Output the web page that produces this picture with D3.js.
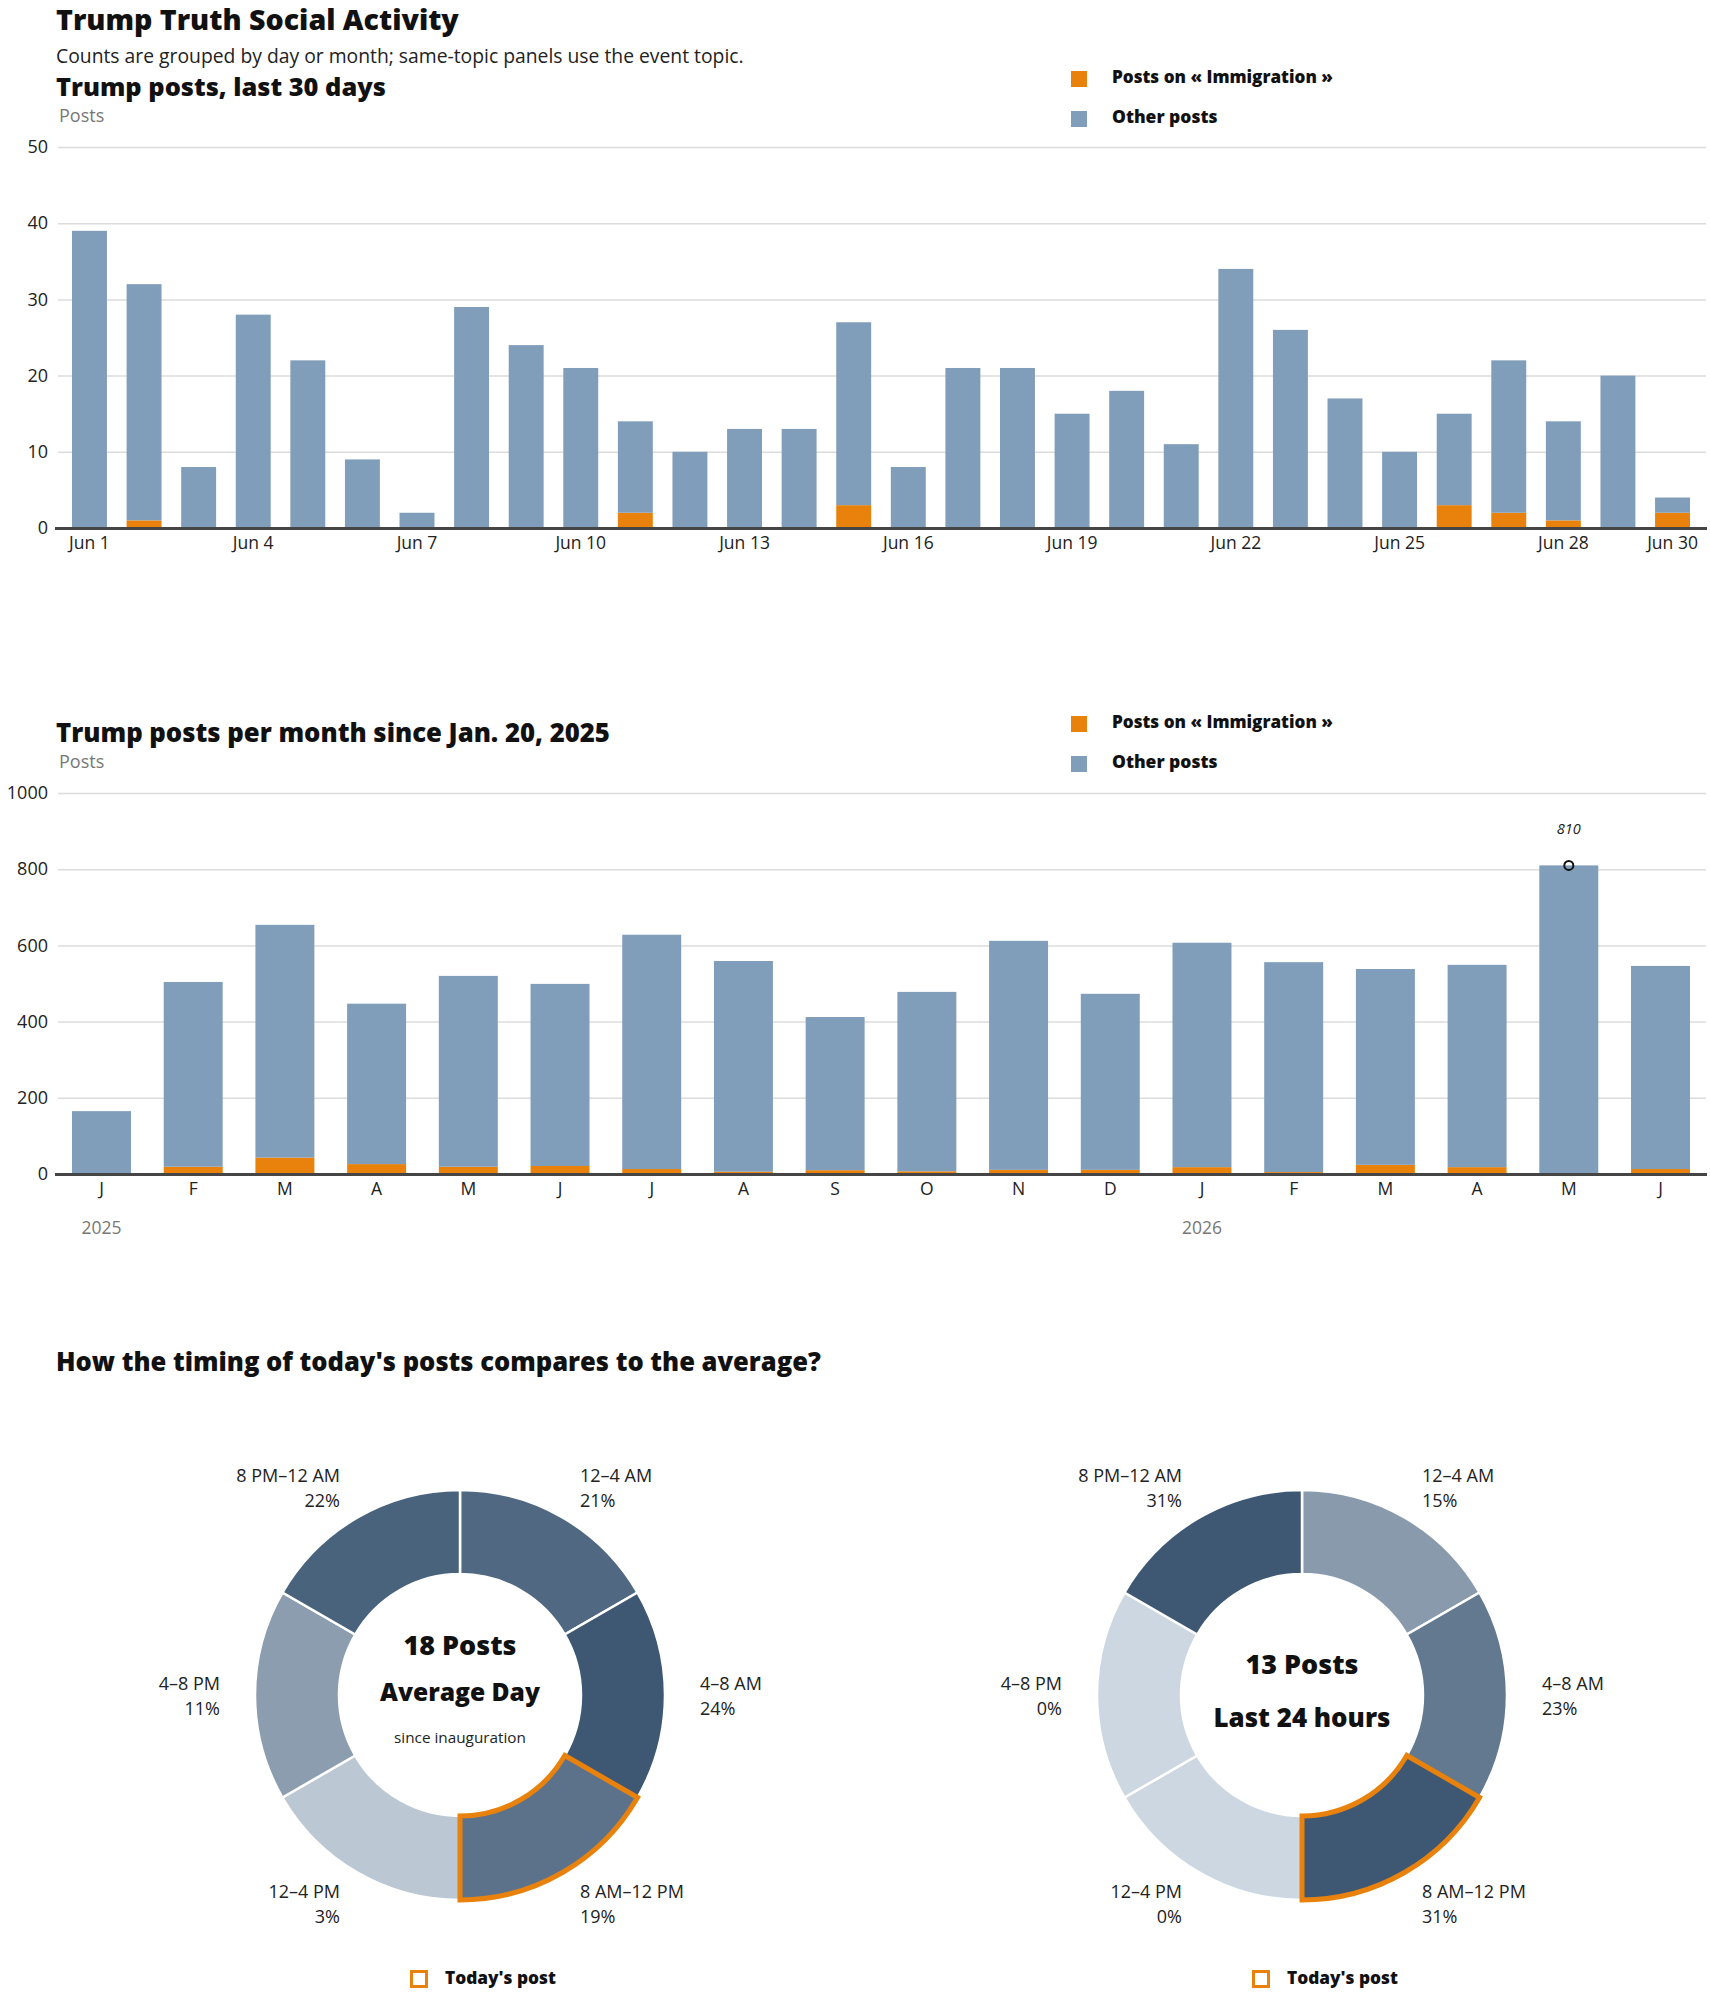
<!DOCTYPE html>
<html>
<head>
<meta charset="utf-8">
<script src="https://cdn.jsdelivr.net/npm/d3@7"></script>
<style>
  body { margin: 0; background: #fff; }
  svg { display: block; font-family: "Open Sans", Roboto, sans-serif; }
  .heavy { font-weight: 800; fill: #111; font-family: "Open Sans", Roboto, sans-serif; }
</style>
</head>
<body>
<svg id="chart" width="1710" height="1993"></svg>
<script>
// ---------- DATA ----------
const dayLabels = ["Jun 1","Jun 2","Jun 3","Jun 4","Jun 5","Jun 6","Jun 7","Jun 8","Jun 9","Jun 10",
  "Jun 11","Jun 12","Jun 13","Jun 14","Jun 15","Jun 16","Jun 17","Jun 18","Jun 19","Jun 20",
  "Jun 21","Jun 22","Jun 23","Jun 24","Jun 25","Jun 26","Jun 27","Jun 28","Jun 29","Jun 30"];
const dayTotal = [39,32,8,28,22,9,2,29,24,21,14,10,13,13,27,8,21,21,15,18,11,34,26,17,10,15,22,14,20,4];
const dayImmigration = [0,1,0,0,0,0,0,0,0,0,2,0,0,0,3,0,0,0,0,0,0,0,0,0,0,3,2,1,0,2];
const dayTickLabels = ["Jun 1","Jun 4","Jun 7","Jun 10","Jun 13","Jun 16","Jun 19","Jun 22","Jun 25","Jun 28","Jun 30"];
const dayYTicks = [0,10,20,30,40,50];

const monthKeys = ["2025-01","2025-02","2025-03","2025-04","2025-05","2025-06","2025-07","2025-08","2025-09",
  "2025-10","2025-11","2025-12","2026-01","2026-02","2026-03","2026-04","2026-05","2026-06"];
const monthLetters = ["J","F","M","A","M","J","J","A","S","O","N","D","J","F","M","A","M","J"];
const monthTotal = [165,504,654,447,520,499,628,559,412,478,612,473,607,556,538,549,810,546];
const monthImmigration = [0,19,43,26,19,21,13,6,10,7,11,11,18,5,24,18,0,13];
const monthYTicks = [0,200,400,600,800,1000];
const yearKeys = ["2025-01","2026-01"];
const yearLabels = ["2025","2026"];
const annotatedMonth = "2026-05";

const timeSlots = ["12–4 AM","4–8 AM","8 AM–12 PM","12–4 PM","4–8 PM","8 PM–12 AM"];
const averagePct = [21,24,19,3,11,22];
const todayPct = [15,23,31,0,0,31];
const highlightSlot = "8 AM–12 PM";

const topic = "Immigration";
const seriesNames = ["Posts on « " + topic + " »", "Other posts"];

// ---------- STYLE ----------
const ORANGE = "#e8820c", BLUE = "#809db9";
const svg = d3.select("#chart");

// scale a text's font-size so it spans the reference width
function fit(sel, target) {
  const w = sel.node().getComputedTextLength();
  const fs = +sel.attr("font-size");
  if (w > 0) sel.attr("font-size", (fs * target / w).toFixed(2));
  return sel;
}

// Headings
fit(svg.append("text").attr("class","heavy").attr("x",56).attr("y",29.5).attr("font-size",26)
  .text("Trump Truth Social Activity"), 403);
fit(svg.append("text").attr("x",56).attr("y",63).attr("font-size",18).attr("fill","#222")
  .text("Counts are grouped by day or month; same-topic panels use the event topic."), 688);

function legend(y0) {
  const g = svg.append("g");
  const widths = [221, 105.5];
  [ORANGE, BLUE].forEach((c, i) => {
    g.append("rect").attr("x",1071).attr("y",y0 + i*40).attr("width",16).attr("height",16).attr("fill",c);
    fit(g.append("text").attr("class","heavy").attr("x",1112).attr("y",y0 + 12 + i*40).attr("font-size",16)
      .text(seriesNames[i]), widths[i]);
  });
}

function barChart(opts) {
  const { labels, total, imm, yTicks, yMax, yRange, padInner, title, titleW, titleY, postsY, legendY } = opts;
  fit(svg.append("text").attr("class","heavy").attr("x",56).attr("y",titleY).attr("font-size",22).text(title), titleW);
  svg.append("text").attr("x",59).attr("y",postsY).attr("font-size",18).attr("fill","#777").text("Posts");
  legend(legendY);

  const x = d3.scaleBand().domain(labels).range([72,1690]).paddingInner(padInner).paddingOuter(0);
  const y = d3.scaleLinear().domain([0,yMax]).range(yRange);

  const ga = svg.append("g").attr("transform","translate(58,0)")
    .call(d3.axisLeft(y).tickValues(yTicks).tickFormat(d3.format("d")).tickSize(-(1706-58)).tickPadding(10));
  ga.select(".domain").remove();
  ga.selectAll(".tick line").attr("stroke","#dcdcdc").attr("stroke-width",1.5);
  ga.selectAll(".tick text").attr("font-size",18).attr("fill","#222").attr("font-family","'Open Sans', sans-serif");

  const rows = labels.map((k,i) => ({k, imm: imm[i], other: total[i]-imm[i]}));
  const stack = d3.stack().keys(["imm","other"])(rows);
  const colors = [ORANGE, BLUE];
  svg.append("g").selectAll("g").data(stack).join("g").attr("fill",(d,i)=>colors[i])
    .selectAll("rect").data(d=>d).join("rect")
    .attr("x", d=>x(d.data.k)).attr("width", x.bandwidth())
    .attr("y", d=>y(d[1])).attr("height", d=>y(d[0])-y(d[1]));

  svg.append("line").attr("x1",55).attr("x2",1707).attr("y1",y(0)+0.5).attr("y2",y(0)+0.5)
    .attr("stroke","#454545").attr("stroke-width",3);
  return {x, y};
}

// Chart 1: last 30 days
const c1 = barChart({labels: dayLabels, total: dayTotal, imm: dayImmigration, yTicks: dayYTicks, yMax: 50,
  yRange: [528,147], padInner: 0.36, title: "Trump posts, last 30 days", titleW: 330, titleY: 96, postsY: 122, legendY: 71});
const gx1 = svg.append("g").attr("transform",`translate(0,${c1.y(0)})`)
  .call(d3.axisBottom(c1.x).tickValues(dayTickLabels).tickSize(0).tickPadding(9));
gx1.select(".domain").remove();
gx1.selectAll("text").attr("font-size",17.5).attr("fill","#222").attr("font-family","'Open Sans', sans-serif");

// Chart 2: per month
const c2 = barChart({labels: monthKeys, total: monthTotal, imm: monthImmigration, yTicks: monthYTicks, yMax: 1000,
  yRange: [1174,793], padInner: 0.357, title: "Trump posts per month since Jan. 20, 2025", titleW: 554, titleY: 742, postsY: 768, legendY: 716});
const gx2 = svg.append("g").attr("transform",`translate(0,${c2.y(0)})`)
  .call(d3.axisBottom(c2.x).tickSize(0).tickPadding(9).tickFormat((d,i)=>monthLetters[i]));
gx2.select(".domain").remove();
gx2.selectAll("text").attr("font-size",17.5).attr("fill","#222").attr("font-family","'Open Sans', sans-serif");
svg.append("g").selectAll("text").data(yearKeys).join("text")
  .attr("x", d=>c2.x(d)+c2.x.bandwidth()/2).attr("y",1234).attr("text-anchor","middle")
  .attr("font-size",17.5).attr("fill","#777").text((d,i)=>yearLabels[i]);
// annotation
const ai = monthKeys.indexOf(annotatedMonth);
const ax = c2.x(annotatedMonth)+c2.x.bandwidth()/2;
svg.append("circle").attr("cx",ax).attr("cy",c2.y(monthTotal[ai])).attr("r",4.5)
  .attr("fill","none").attr("stroke","#111").attr("stroke-width",2);
svg.append("text").attr("x",ax).attr("y",c2.y(monthTotal[ai])-31).attr("text-anchor","middle")
  .attr("font-size",14.5).attr("font-style","italic").attr("fill","#222").text(monthTotal[ai]);

// Section 3
fit(svg.append("text").attr("class","heavy").attr("x",56).attr("y",1371).attr("font-size",23)
  .text("How the timing of today's posts compares to the average?"), 765);

function donut(cx, cy, pct, centerLines) {
  const g = svg.append("g").attr("transform",`translate(${cx},${cy})`);
  const maxV = d3.max(pct);
  const color = d3.scaleLinear().domain([0,maxV]).range(["#cdd7e1","#3e5874"]);
  const data = timeSlots.map((s,i)=>({slot:s, pct:pct[i]}));
  const arcs = d3.pie().value(1).sort(null)(data);
  const arc = d3.arc().innerRadius(121).outerRadius(205);
  g.selectAll("path.slice").data(arcs).join("path").attr("class","slice")
    .attr("d",arc).attr("fill",d=>color(d.data.pct)).attr("stroke","#fff").attr("stroke-width",2.5);
  g.selectAll("path.hl").data(arcs.filter(d=>d.data.slot===highlightSlot)).join("path").attr("class","hl")
    .attr("d",arc).attr("fill","none").attr("stroke",ORANGE).attr("stroke-width",5).attr("stroke-linejoin","miter");
  const lab = g.selectAll("text.lab").data(arcs).join("text").attr("class","lab")
    .attr("font-size",18).attr("fill","#222")
    .attr("text-anchor", d => Math.sin((d.startAngle+d.endAngle)/2) >= 0 ? "start" : "end");
  lab.each(function(d){
    const a = (d.startAngle+d.endAngle)/2, r = 240;
    const px = r*Math.sin(a), py = -r*Math.cos(a);
    const t = d3.select(this);
    t.append("tspan").attr("x",px).attr("y",py-5).text(d.data.slot);
    t.append("tspan").attr("x",px).attr("y",py+20).text(d.data.pct + "%");
  });
  centerLines.forEach(l => {
    const t = g.append("text").attr("x",0).attr("y",l.y).attr("text-anchor","middle")
      .attr("font-size",l.size).attr("font-weight",l.bold?800:400).attr("fill",l.bold?"#111":"#222").text(l.text);
    fit(t, l.w);
  });
  // legend
  const lg = svg.append("g").attr("transform",`translate(${cx-50},1970)`);
  lg.append("rect").attr("x",1.5).attr("y",1.5).attr("width",15).attr("height",15)
    .attr("fill","none").attr("stroke",ORANGE).attr("stroke-width",3);
  fit(lg.append("text").attr("class","heavy").attr("x",35).attr("y",14).attr("font-size",16).text("Today's post"), 111);
}
donut(460, 1695, averagePct, [
  {text:"18 Posts", y:-40, size:25, bold:true, w:113},
  {text:"Average Day", y:6, size:25, bold:true, w:160},
  {text:"since inauguration", y:48, size:15.5, bold:false, w:132}]);
donut(1302, 1695, todayPct, [
  {text:"13 Posts", y:-21, size:25, bold:true, w:113},
  {text:"Last 24 hours", y:32, size:25, bold:true, w:177}]);
</script>
</body>
</html>
